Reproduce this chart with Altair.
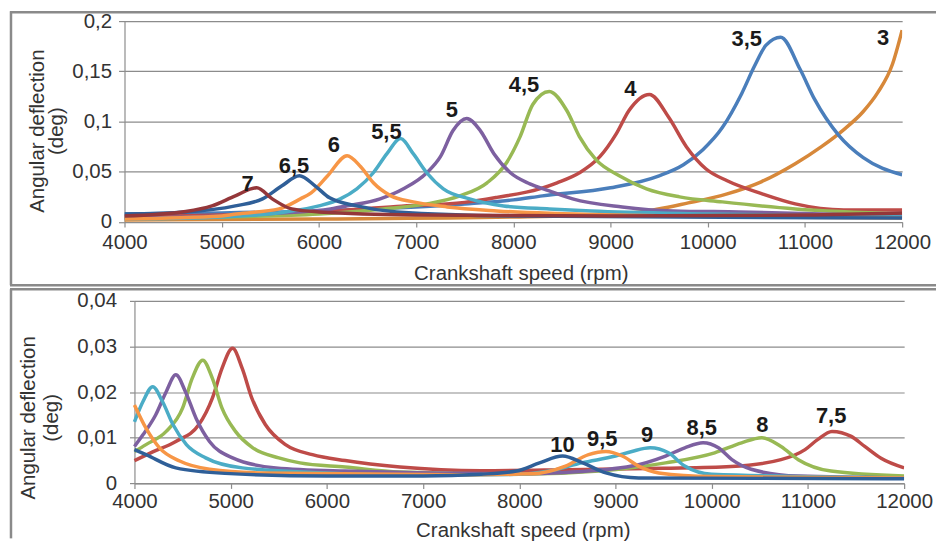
import altair as alt
import pandas as pd

# ---------------- axis ticks ----------------
X_TICKS = [4000, 5000, 6000, 7000, 8000, 9000, 10000, 11000, 12000]
TOP_Y_TICKS = [0, 0.05, 0.1, 0.15, 0.2]
BOT_Y_TICKS = [0, 0.01, 0.02, 0.03, 0.04]

# ---------------- top panel (orders 3 ... 7) ----------------
S3_X = [4000, 6000, 8000, 9000, 9300, 9800, 10200, 10550, 10900, 11170, 11400, 11600, 11750, 11900, 12000]
S3_Y = [0.002, 0.003, 0.005, 0.008, 0.010, 0.019, 0.028, 0.040, 0.058, 0.075, 0.092, 0.110, 0.129, 0.157, 0.191]

S35_X = [4000, 5000, 6000, 7000, 7500, 8000, 8300, 9000, 9500, 9750, 9950, 10150, 10350, 10480, 10600, 10750, 10950, 11100, 11350, 11600, 12000]
S35_Y = [0.008, 0.009, 0.011, 0.015, 0.018, 0.022, 0.026, 0.034, 0.046, 0.057, 0.072, 0.094, 0.128, 0.155, 0.176, 0.184, 0.152, 0.122, 0.086, 0.064, 0.047]

S4_X = [4000, 5000, 6000, 6800, 7500, 7830, 8270, 8450, 8680, 8890, 9060, 9190, 9400, 9600, 9780, 9980, 10200, 10560, 10900, 11400, 12000]
S4_Y = [0.005, 0.007, 0.010, 0.0155, 0.0195, 0.0245, 0.033, 0.039, 0.049, 0.065, 0.088, 0.111, 0.127, 0.104, 0.075, 0.053, 0.041, 0.028, 0.018, 0.012, 0.012]

S45_X = [4000, 5000, 6000, 6660, 7110, 7450, 7730, 7930, 8070, 8200, 8370, 8550, 8680, 8850, 9090, 9370, 9710, 10150, 10900, 12000]
S45_Y = [0.004, 0.005, 0.008, 0.013, 0.018, 0.026, 0.039, 0.059, 0.085, 0.117, 0.130, 0.111, 0.085, 0.062, 0.046, 0.033, 0.025, 0.020, 0.013, 0.008]

S5_X = [4000, 5000, 5600, 6120, 6290, 6630, 6870, 7110, 7250, 7380, 7520, 7660, 7800, 7970, 8170, 8370, 8610, 9120, 9640, 10320, 12000]
S5_Y = [0.004, 0.006, 0.009, 0.013, 0.016, 0.023, 0.033, 0.049, 0.065, 0.091, 0.103, 0.091, 0.068, 0.049, 0.038, 0.031, 0.023, 0.015, 0.011, 0.010, 0.006]

S55_X = [4000, 5000, 5650, 6000, 6220, 6390, 6560, 6700, 6840, 6970, 7110, 7280, 7550, 7900, 8370, 8800, 10000, 12000]
S55_Y = [0.003, 0.005, 0.010, 0.016, 0.023, 0.033, 0.049, 0.068, 0.083, 0.068, 0.049, 0.033, 0.023, 0.016, 0.013, 0.011, 0.008, 0.005]

S6_X = [4000, 5000, 5150, 5590, 5810, 5920, 6090, 6290, 6430, 6560, 6740, 6970, 7320, 7830, 9000, 12000]
S6_Y = [0.003, 0.006, 0.008, 0.013, 0.023, 0.029, 0.046, 0.066, 0.055, 0.039, 0.026, 0.020, 0.015, 0.011, 0.007, 0.004]

S65_X = [4000, 4630, 5140, 5420, 5620, 5800, 5960, 6110, 6390, 6800, 8000, 12000]
S65_Y = [0.008, 0.010, 0.016, 0.023, 0.036, 0.046, 0.036, 0.024, 0.016, 0.010, 0.006, 0.004]

S7_X = [4000, 4630, 4900, 5140, 5360, 5520, 5720, 6000, 7000, 9000, 11000, 12000]
S7_Y = [0.006, 0.0105, 0.016, 0.026, 0.034, 0.023, 0.013, 0.010, 0.007, 0.006, 0.007, 0.009]

# ---------------- bottom panel (orders 7,5 ... 10) ----------------
S75_X = [4000, 4190, 4430, 4670, 4810, 4910, 5020, 5120, 5220, 5360, 5570, 5850, 6190, 6760, 7600, 8500, 9500, 10200, 10720, 10970, 11100, 11250, 11450, 11590, 11760, 12000]
S75_Y = [0.0050, 0.0069, 0.0092, 0.0129, 0.0187, 0.0252, 0.0296, 0.0252, 0.0187, 0.0129, 0.0085, 0.0063, 0.0050, 0.0036, 0.0028, 0.0030, 0.0033, 0.0037, 0.0052, 0.0074, 0.0096, 0.0114, 0.0103, 0.0081, 0.0055, 0.0034]

S8_X = [4000, 4120, 4330, 4500, 4600, 4710, 4810, 4910, 5050, 5230, 5500, 5720, 6190, 6760, 8000, 8830, 9520, 10030, 10310, 10520, 10720, 10900, 11240, 12000]
S8_Y = [0.0070, 0.0085, 0.0114, 0.0165, 0.0230, 0.0270, 0.0230, 0.0165, 0.0114, 0.0078, 0.0056, 0.0045, 0.0036, 0.0025, 0.0020, 0.0027, 0.0045, 0.0067, 0.0089, 0.0100, 0.0081, 0.0052, 0.0027, 0.0016]

S85_X = [4000, 4090, 4220, 4330, 4430, 4530, 4640, 4780, 5020, 5470, 6190, 8000, 8480, 9170, 9520, 9720, 9910, 10070, 10210, 10410, 10900, 12000]
S85_Y = [0.0081, 0.0107, 0.0150, 0.0201, 0.0238, 0.0201, 0.0143, 0.0092, 0.0056, 0.0034, 0.0027, 0.0021, 0.0024, 0.0038, 0.0060, 0.0078, 0.0089, 0.0078, 0.0052, 0.0031, 0.0016, 0.0012]

S9_X = [4000, 4090, 4190, 4290, 4400, 4540, 4740, 5120, 5980, 7000, 8000, 8310, 8650, 9000, 9170, 9360, 9550, 9720, 10000, 12000]
S9_Y = [0.0135, 0.0180, 0.0212, 0.0180, 0.0129, 0.0085, 0.0056, 0.0034, 0.0023, 0.0018, 0.0020, 0.0027, 0.0045, 0.0060, 0.0070, 0.0078, 0.0067, 0.0038, 0.0020, 0.0012]

S95_X = [4000, 4120, 4260, 4470, 4780, 5300, 7500, 8130, 8480, 8720, 8900, 9070, 9240, 9450, 10000, 12000]
S95_Y = [0.0172, 0.0121, 0.0078, 0.0049, 0.0031, 0.0023, 0.0019, 0.0021, 0.0038, 0.0063, 0.0070, 0.0060, 0.0038, 0.0023, 0.0015, 0.0012]

S10_X = [4000, 4120, 4430, 4940, 6000, 7000, 7600, 7970, 8210, 8450, 8660, 8900, 9240, 12000]
S10_Y = [0.0074, 0.0063, 0.0034, 0.0022, 0.0016, 0.0016, 0.0020, 0.0027, 0.0045, 0.0060, 0.0045, 0.0023, 0.0012, 0.0010]

# ---------------- peak labels ----------------
TOP_LABEL_TEXT = ["3,5", "3", "4", "4,5", "5", "5,5", "6", "6,5", "7"]
TOP_LABEL_X = [10402, 11805, 9203, 8110, 7367, 6694, 6154, 5744, 5267]
TOP_LABEL_Y = [0.182, 0.183, 0.132, 0.136, 0.111, 0.0897, 0.0766, 0.0554, 0.0375]

BOT_LABEL_TEXT = ["10", "9,5", "9", "8,5", "8", "7,5"]
BOT_LABEL_X = [8449, 8862, 9328, 9897, 10525, 11241]
BOT_LABEL_Y = [0.0085, 0.0098, 0.0107, 0.0121, 0.0127, 0.0147]

# ---------------- colours ----------------
NAMES = ["3", "3,5", "4", "4,5", "5", "5,5", "6", "6,5", "7",
         "7,5", "8", "8,5", "9", "9,5", "10"]
COLORS = ["#D7883A", "#4A7EBB", "#BE4B48", "#98B954", "#7D60A0", "#4BACC6", "#F79646", "#2F5F98", "#94373A",
          "#BE4B48", "#98B954", "#7D60A0", "#4BACC6", "#F79646", "#2F5F98"]

TOP_SERIES = [("3", S3_X, S3_Y), ("3,5", S35_X, S35_Y), ("4", S4_X, S4_Y), ("4,5", S45_X, S45_Y),
              ("5", S5_X, S5_Y), ("5,5", S55_X, S55_Y), ("6", S6_X, S6_Y), ("6,5", S65_X, S65_Y),
              ("7", S7_X, S7_Y)]
BOT_SERIES = [("7,5", S75_X, S75_Y), ("8", S8_X, S8_Y), ("8,5", S85_X, S85_Y), ("9", S9_X, S9_Y),
              ("9,5", S95_X, S95_Y), ("10", S10_X, S10_Y)]

FONT = "Liberation Sans"
FRAME = "#8a8a8a"
GRID = "#8c8c8c"


def long_table(series):
    rows = []
    for name, xs, ys in series:
        for x, y in zip(xs, ys):
            rows.append({"order": name, "x": x, "y": y})
    return pd.DataFrame(rows)


def frame_rule(x1, x2, y1, y2):
    return alt.Chart(pd.DataFrame({"d": [0]})).mark_rule(color=FRAME, strokeWidth=2.5).encode(
        x=alt.value(x1), x2=alt.value(x2), y=alt.value(y1), y2=alt.value(y2))


def panel(series, lab_t, lab_x, lab_y, y_dom, y_ticks, width, height, x_range, y_offset,
          y_tick, y_pad, x_pad, ytitle_x, ytitle_y, ytitle_lh, xtitle_x, xtitle_y, frame):
    df = long_table(series)
    lab = pd.DataFrame({"t": lab_t, "x": lab_x, "y": lab_y})
    x_enc = alt.X("x:Q", scale=alt.Scale(domain=[4000, 12000], range=x_range, nice=False, zero=False),
                  axis=alt.Axis(values=X_TICKS, format="d", grid=False, title="Crankshaft speed (rpm)",
                                tickSize=5, labelPadding=x_pad, labelFlush=False,
                                titleX=xtitle_x, titleY=xtitle_y,
                                titleBaseline="middle", titleAlign="center"))
    y_enc = alt.Y("y:Q", scale=alt.Scale(domain=y_dom, nice=False, zero=True),
                  axis=alt.Axis(values=y_ticks, labelExpr="replace(toString(datum.value), '.', ',')",
                                grid=True, title=["Angular deflection", "(deg)"], tickSize=y_tick,
                                offset=y_offset, labelPadding=y_pad, titleX=ytitle_x, titleY=ytitle_y,
                                titleAngle=-90, titleAlign="center", titleBaseline="bottom",
                                titleLineHeight=ytitle_lh))
    lines = alt.Chart(df).mark_line(interpolate="monotone", strokeWidth=3.5, clip=True).encode(
        x=x_enc, y=y_enc,
        color=alt.Color("order:N", scale=alt.Scale(domain=NAMES, range=COLORS), legend=None))
    texts = alt.Chart(lab).mark_text(font=FONT, fontWeight="bold", fontSize=22, color="#1a1a1a",
                                     align="center", baseline="middle").encode(
        x=x_enc, y=y_enc, text="t:N")
    rules = [frame_rule(*f) for f in frame]
    return alt.layer(lines, texts, *rules).properties(width=width, height=height)


# top panel: plot origin ~ (123, 18) on the page
top = panel(TOP_SERIES, TOP_LABEL_TEXT, TOP_LABEL_X, TOP_LABEL_Y, [0, 0.2], TOP_Y_TICKS,
            781, 201.75, [0, 781], 0, 6, 7, 6, -77, 110, 19, 398, 52,
            [(-115, 815, -9, -9), (-114, -114, -10, 265.25), (-115, 815, 265.25, 265.25)])

# bottom panel: same group origin, data range shifted 10px to the right
bottom = panel(BOT_SERIES, BOT_LABEL_TEXT, BOT_LABEL_X, BOT_LABEL_Y, [0, 0.04], BOT_Y_TICKS,
               783, 183.3, [10, 783], -10, 5, 13, 3, -96, 117, 23, 400, 47,
               [(-115, 815, -11.75, -11.75), (-114, -114, -11.75, 238.5)])

chart = alt.concat(top, bottom, columns=1).properties(
    spacing=1, bounds="full", padding=0
).configure_view(stroke=None).configure_axis(
    labelFont=FONT, labelFontSize=20.5, labelColor="#333333",
    titleFont=FONT, titleFontSize=20.5, titleColor="#333333", titleFontWeight="normal",
    domainColor=GRID, tickColor=GRID, gridColor=GRID, domainWidth=1.2, gridWidth=1.2, tickWidth=1.2
)

chart.save("out.html", embed_options={"renderer": "svg", "actions": False})
